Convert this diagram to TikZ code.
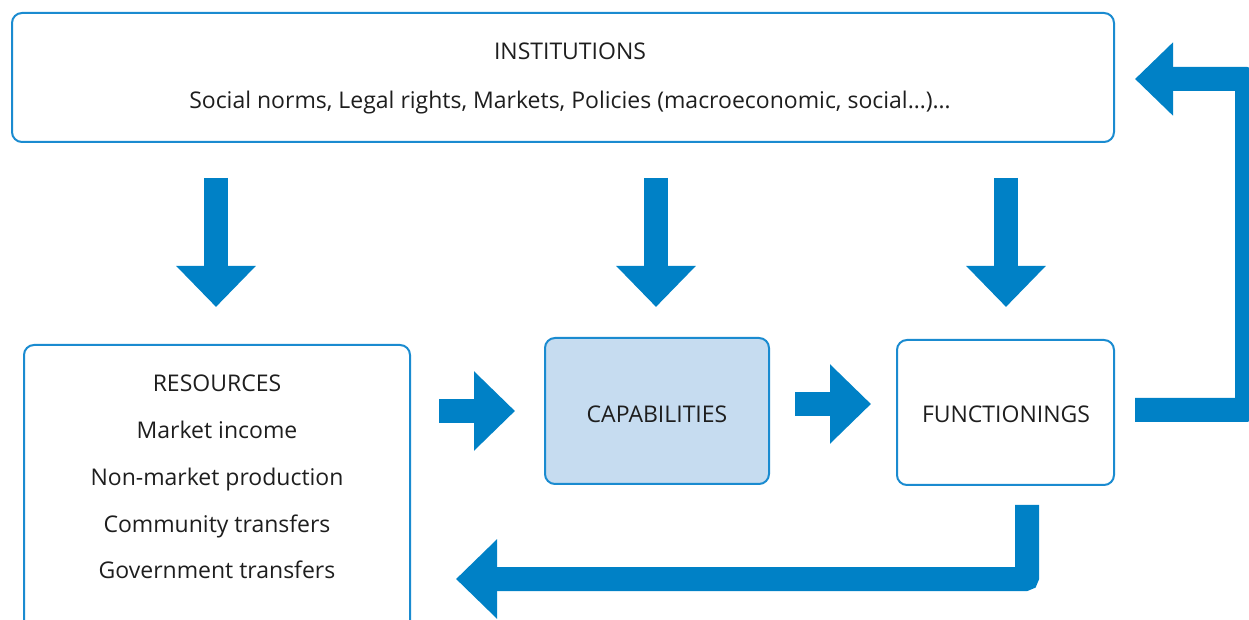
\documentclass[tikz,border=0pt]{standalone}
\usepackage{fontspec}
\setmainfont{Open Sans}
\usetikzlibrary{arrows.meta}
\definecolor{ablue}{HTML}{0081C6}
\definecolor{bblue}{HTML}{1A8BD0}
\definecolor{cfill}{HTML}{C6DCF0}
\definecolor{txt}{HTML}{1E1E1E}
\begin{document}
\begin{tikzpicture}[x=0.5pt,y=-0.5pt,
  box/.style={draw=bblue, line width=1pt, rounded corners=5pt, inner sep=0pt},
  lbl/.style={text=txt, align=center, inner sep=0pt, font=\fontsize{11.5}{23.4}\selectfont},
  barrow/.style={draw=ablue, line width=12pt, rounded corners=1pt,
    -{Triangle[length=20.5pt,width=38.5pt]}},
  barrowb/.style={draw=ablue, line width=12pt, rounded corners=1pt,
    -{Triangle[length=19pt,width=35.5pt]}}]
\useasboundingbox (0,0) rectangle (1249,620);
\clip (0,0) rectangle (1249,620);
% boxes
\node[box, minimum width=551pt, minimum height=64.5pt] (inst) at (563,77.5) {};
\node[lbl, font=\fontsize{11.5}{24.5}\selectfont] (instt) at (570,78)
  {INSTITUTIONS\\Social norms, Legal rights, Markets, Policies (macroeconomic, social…)…};
\node[box, minimum width=193pt, minimum height=150pt] (res) at (217,495) {};
\node[lbl] (rest) at (217,477)
  {RESOURCES\\Market income\\Non-market production\\Community transfers\\Government transfers};
\node[box, fill=cfill, minimum width=112pt, minimum height=73pt] (cap) at (657,411) {};
\node[lbl] (capt) at (657,414) {CAPABILITIES};
\node[box, minimum width=108.5pt, minimum height=72.5pt] (fun) at (1005.5,412.5) {};
\node[lbl] (funt) at (1006,414) {FUNCTIONINGS};
% arrow end points
\coordinate (d1a) at (216,178); \coordinate (d1b) at (216,307);
\coordinate (d2a) at (656,178); \coordinate (d2b) at (656,307);
\coordinate (d3a) at (1006,178); \coordinate (d3b) at (1006,307);
\coordinate (r1a) at (439,411); \coordinate (r1b) at (515,411);
\coordinate (r2a) at (795,404); \coordinate (r2b) at (871,404);
\coordinate (fba) at (1135,410); \coordinate (fbb) at (1135,79);
\coordinate (bka) at (1027,505); \coordinate (bkb) at (456,579);
% arrows
\draw[barrow] (d1a) -- (d1b);
\draw[barrow] (d2a) -- (d2b);
\draw[barrow] (d3a) -- (d3b);
\draw[barrow] (r1a) -- (r1b);
\draw[barrow] (r2a) -- (r2b);
\draw[barrowb] (fba) -- (1247,410) -- (1247,79) -- (fbb);
\draw[barrow] (bka) -- (1027,579) -- (bkb);
\end{tikzpicture}
\end{document}
